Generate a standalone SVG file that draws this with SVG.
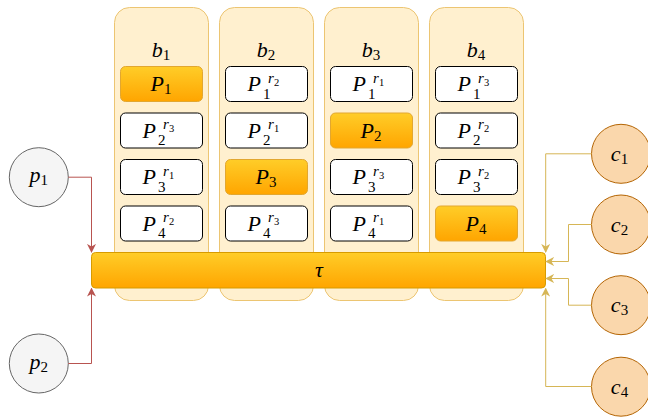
<svg xmlns="http://www.w3.org/2000/svg" width="648" height="418" viewBox="0 0 648 418" font-family="'Liberation Serif', serif">
<defs>
<linearGradient id="og" x1="0" y1="0" x2="0" y2="1"><stop offset="0" stop-color="#ffcd28"/><stop offset="1" stop-color="#ffa500"/></linearGradient>
<marker id="ar" viewBox="0 0 10 10" refX="9" refY="5" markerWidth="9" markerHeight="9" markerUnits="userSpaceOnUse" orient="auto"><path d="M0,0 L10,5 L0,10 L3,5 Z" fill="#b85450"/></marker>
<marker id="ay" viewBox="0 0 10 10" refX="9" refY="5" markerWidth="9" markerHeight="9" markerUnits="userSpaceOnUse" orient="auto"><path d="M0,0 L10,5 L0,10 L3,5 Z" fill="#d6b656"/></marker>
<style>
.col{fill:#fff0cf;stroke:#ecc572;stroke-width:1}
.box{fill:#ffffff;stroke:#000000;stroke-width:1}
.hl{fill:url(#og);stroke:#e2a730;stroke-width:1}
.bar{fill:url(#og);stroke:#d79b00;stroke-width:1}
.pc{fill:#f5f5f5;stroke:#666666;stroke-width:1}
.cc{fill:#fad7ac;stroke:#b46504;stroke-width:1}
text,tspan{font-family:'Liberation Serif',serif}
.m{font-style:italic;font-size:22px;fill:#000}
.s{font-style:normal;font-size:15px;fill:#000}
.r{font-style:italic;font-size:15px;fill:#000}
.rs{font-style:normal;font-size:10.5px;fill:#000}
.red{fill:none;stroke:#b85450;stroke-width:1;marker-end:url(#ar)}
.yel{fill:none;stroke:#d6b656;stroke-width:1;marker-end:url(#ay)}
</style>
</defs>

<g id="col-b1">
<rect class="col" x="114.5" y="7.5" width="94" height="293" rx="15"/>
<text x="161" y="56.5" text-anchor="middle"><tspan class="m">b</tspan><tspan class="s" dy="3">1</tspan></text>
<rect class="hl" x="120.5" y="66.5" width="82" height="35" rx="5"/>
<text x="161" y="91" text-anchor="middle"><tspan class="m">P</tspan><tspan class="s" dy="3">1</tspan></text>
<rect class="box" x="120.5" y="113" width="82" height="35" rx="5"/>
<text class="m" x="142.5" y="137.5">P</text><text class="r" x="163" y="129">r</text><text class="rs" x="169" y="132">3</text><text class="s" x="158" y="145">2</text>
<rect class="box" x="120.5" y="159.5" width="82" height="35" rx="5"/>
<text class="m" x="142.5" y="184">P</text><text class="r" x="163" y="175.5">r</text><text class="rs" x="169" y="178.5">1</text><text class="s" x="158" y="191.5">3</text>
<rect class="box" x="120.5" y="206" width="82" height="35" rx="5"/>
<text class="m" x="142.5" y="230.5">P</text><text class="r" x="163" y="222">r</text><text class="rs" x="169" y="225">2</text><text class="s" x="158" y="238">4</text>
</g>

<g id="col-b2">
<rect class="col" x="219.5" y="7.5" width="94" height="293" rx="15"/>
<text x="266" y="56.5" text-anchor="middle"><tspan class="m">b</tspan><tspan class="s" dy="3">2</tspan></text>
<rect class="box" x="225.5" y="66.5" width="82" height="35" rx="5"/>
<text class="m" x="247.5" y="91">P</text><text class="r" x="268" y="82.5">r</text><text class="rs" x="274" y="85.5">2</text><text class="s" x="263" y="98.5">1</text>
<rect class="box" x="225.5" y="113" width="82" height="35" rx="5"/>
<text class="m" x="247.5" y="137.5">P</text><text class="r" x="268" y="129">r</text><text class="rs" x="274" y="132">1</text><text class="s" x="263" y="145">2</text>
<rect class="hl" x="225.5" y="159.5" width="82" height="35" rx="5"/>
<text x="266" y="184" text-anchor="middle"><tspan class="m">P</tspan><tspan class="s" dy="3">3</tspan></text>
<rect class="box" x="225.5" y="206" width="82" height="35" rx="5"/>
<text class="m" x="247.5" y="230.5">P</text><text class="r" x="268" y="222">r</text><text class="rs" x="274" y="225">3</text><text class="s" x="263" y="238">4</text>
</g>

<g id="col-b3">
<rect class="col" x="324.5" y="7.5" width="94" height="293" rx="15"/>
<text x="371" y="56.5" text-anchor="middle"><tspan class="m">b</tspan><tspan class="s" dy="3">3</tspan></text>
<rect class="box" x="330.5" y="66.5" width="82" height="35" rx="5"/>
<text class="m" x="352.5" y="91">P</text><text class="r" x="373" y="82.5">r</text><text class="rs" x="379" y="85.5">1</text><text class="s" x="368" y="98.5">1</text>
<rect class="hl" x="330.5" y="113" width="82" height="35" rx="5"/>
<text x="371" y="137.5" text-anchor="middle"><tspan class="m">P</tspan><tspan class="s" dy="3">2</tspan></text>
<rect class="box" x="330.5" y="159.5" width="82" height="35" rx="5"/>
<text class="m" x="352.5" y="184">P</text><text class="r" x="373" y="175.5">r</text><text class="rs" x="379" y="178.5">3</text><text class="s" x="368" y="191.5">3</text>
<rect class="box" x="330.5" y="206" width="82" height="35" rx="5"/>
<text class="m" x="352.5" y="230.5">P</text><text class="r" x="373" y="222">r</text><text class="rs" x="379" y="225">1</text><text class="s" x="368" y="238">4</text>
</g>

<g id="col-b4">
<rect class="col" x="429.5" y="7.5" width="94" height="293" rx="15"/>
<text x="476" y="56.5" text-anchor="middle"><tspan class="m">b</tspan><tspan class="s" dy="3">4</tspan></text>
<rect class="box" x="435.5" y="66.5" width="82" height="35" rx="5"/>
<text class="m" x="457.5" y="91">P</text><text class="r" x="478" y="82.5">r</text><text class="rs" x="484" y="85.5">3</text><text class="s" x="473" y="98.5">1</text>
<rect class="box" x="435.5" y="113" width="82" height="35" rx="5"/>
<text class="m" x="457.5" y="137.5">P</text><text class="r" x="478" y="129">r</text><text class="rs" x="484" y="132">2</text><text class="s" x="473" y="145">2</text>
<rect class="box" x="435.5" y="159.5" width="82" height="35" rx="5"/>
<text class="m" x="457.5" y="184">P</text><text class="r" x="478" y="175.5">r</text><text class="rs" x="484" y="178.5">2</text><text class="s" x="473" y="191.5">3</text>
<rect class="hl" x="435.5" y="206" width="82" height="35" rx="5"/>
<text x="476" y="230.5" text-anchor="middle"><tspan class="m">P</tspan><tspan class="s" dy="3">4</tspan></text>
</g>

<g id="tau">
<rect class="bar" x="91.5" y="252.5" width="454" height="35.5" rx="4"/>
<text class="m" x="319" y="276.5" text-anchor="middle">τ</text>
</g>

<g id="p1"><circle class="pc" cx="38.8" cy="177.2" r="29.5"/><text x="38.8" y="182" text-anchor="middle"><tspan class="m">p</tspan><tspan class="s" dy="3">1</tspan></text></g>
<g id="p2"><circle class="pc" cx="38.8" cy="363.5" r="29.5"/><text x="38.8" y="368.5" text-anchor="middle"><tspan class="m">p</tspan><tspan class="s" dy="3">2</tspan></text></g>
<g id="c1"><circle class="cc" cx="621" cy="153.8" r="29.5"/><text x="619.5" y="161" text-anchor="middle"><tspan class="m">c</tspan><tspan class="s" dy="3">1</tspan></text></g>
<g id="c2"><circle class="cc" cx="621" cy="224.5" r="29.5"/><text x="619.5" y="231.5" text-anchor="middle"><tspan class="m">c</tspan><tspan class="s" dy="3">2</tspan></text></g>
<g id="c3"><circle class="cc" cx="621" cy="305.2" r="29.5"/><text x="619.5" y="312" text-anchor="middle"><tspan class="m">c</tspan><tspan class="s" dy="3">3</tspan></text></g>
<g id="c4"><circle class="cc" cx="621" cy="386.7" r="29.5"/><text x="619.5" y="393.5" text-anchor="middle"><tspan class="m">c</tspan><tspan class="s" dy="3">4</tspan></text></g>

<g id="connectors">
<path class="red" d="M68.3,177.2 H91.5 V252"/>
<path class="red" d="M68.3,363.5 H91.5 V288.5"/>
<path class="yel" d="M591.5,153.8 H545.7 V252"/>
<path class="yel" d="M591.5,224.5 H568.5 V261.5 H546"/>
<path class="yel" d="M591.5,305.2 H568.5 V278.5 H546"/>
<path class="yel" d="M591.5,386.5 H545.7 V288.5"/>
</g>
</svg>
